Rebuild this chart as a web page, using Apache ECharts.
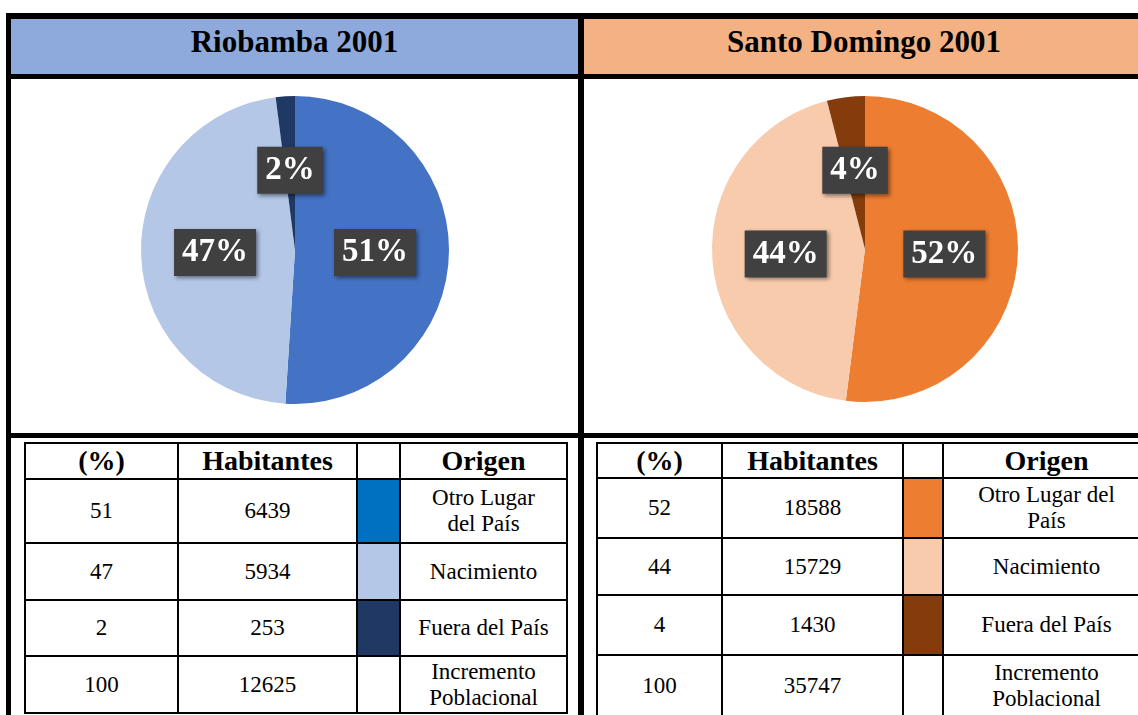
<!DOCTYPE html>
<html>
<head>
<meta charset="utf-8">
<script src="https://cdn.jsdelivr.net/npm/echarts@6/dist/echarts.min.js"></script>
<style>
  body { margin: 0; background: #fff; }
  #page { position: relative; width: 1138px; height: 715px; overflow: hidden; font-family: "Liberation Serif", "Times New Roman", serif; }
  #chart { position: absolute; left: 0; top: 0; width: 1138px; height: 715px; }
  .bar { position: absolute; background: #000; }
  .head { position: absolute; box-sizing: border-box; padding-bottom: 10px; display: flex; align-items: center; justify-content: center; font-weight: bold; font-size: 31px; color: #000; }
  .cell { position: absolute; box-sizing: border-box; border: 2px solid #000; display: flex; align-items: center; justify-content: center; text-align: center; font-size: 23px; line-height: 26px; color: #000; background: #fff; }
  .cell.th { font-weight: bold; font-size: 28px; }
</style>
</head>
<body>
<div id="page">
  <div id="chart"></div>
</div>
<script>
// Riobamba 2001
const rioTitle = "Riobamba 2001";
const rioPct = [51, 47, 2, 100];
const rioHab = [6439, 5934, 253, 12625];
const rioOrigen = ["Otro Lugar<br>del País", "Nacimiento", "Fuera del País", "Incremento<br>Poblacional"];
const rioPieColors = ["#4472C4", "#B4C7E7", "#1F3864"];
const rioSwatch = ["#0070C0", "#B4C7E7", "#203864", "#fff"];

// Santo Domingo 2001
const sdTitle = "Santo Domingo 2001";
const sdPct = [52, 44, 4, 100];
const sdHab = [18588, 15729, 1430, 35747];
const sdOrigen = ["Otro Lugar del<br>País", "Nacimiento", "Fuera del País", "Incremento<br>Poblacional"];
const sdPieColors = ["#ED7D31", "#F8CBAD", "#843C0C"];
const sdSwatch = ["#ED7D31", "#F8CBAD", "#843C0C", "#fff"];

const headers = ["(%)", "Habitantes", "", "Origen"];
const sliceNames = ["Otro Lugar del País", "Nacimiento", "Fuera del País"];

const page = document.getElementById("page");

function box(cls, x, y, w, h, html, bg) {
  const d = document.createElement("div");
  d.className = cls;
  d.style.left = x + "px";
  d.style.top = y + "px";
  d.style.width = w + "px";
  d.style.height = h + "px";
  if (bg) d.style.background = bg;
  if (html !== undefined) d.innerHTML = html;
  page.appendChild(d);
  return d;
}

// headers
box("head", 11, 19, 567, 55, rioTitle, "#8EA9DB");
box("head", 584, 19, 560, 55, sdTitle, "#F4B183");

// thick frame lines
box("bar", 6, 13, 1140, 6);
box("bar", 6, 74, 1140, 5);
box("bar", 6, 433, 1140, 5);
box("bar", 6, 13, 5, 710);
box("bar", 578, 13, 6, 710);

function table(cols, rows, pct, hab, origen, swatch) {
  const body = pct.map((p, i) => [p, hab[i], "", origen[i]]);
  const all = [headers].concat(body);
  for (let r = 0; r < all.length; r++) {
    for (let c = 0; c < 4; c++) {
      const x = cols[c] - 1, y = rows[r] - 1;
      const w = cols[c + 1] - cols[c] + 2, h = rows[r + 1] - rows[r] + 2;
      const bg = r > 0 && c === 2 ? swatch[r - 1] : null;
      box(r === 0 ? "cell th" : "cell", x, y, w, h, String(all[r][c]), bg);
    }
  }
}

table([25, 178, 357, 400, 567], [443, 479, 543, 600, 656, 713], rioPct, rioHab, rioOrigen, rioSwatch);
table([597, 722, 903, 943, 1150], [443, 478, 538, 595, 655, 717], sdPct, sdHab, sdOrigen, sdSwatch);

const chart = echarts.init(document.getElementById("chart"));

const labelStyle = {
  show: true,
  position: "inside",
  formatter: "{d}%",
  fontFamily: "Liberation Serif",
  fontWeight: "bold",
  fontSize: 33,
  lineHeight: 34,
  color: "#fff",
  backgroundColor: "#404040",
  padding: [7, 8, 6, 8],
  shadowColor: "rgba(0,0,0,0.45)",
  shadowBlur: 4,
  shadowOffsetX: 2,
  shadowOffsetY: 2
};

function pieSeries(center, radius, values, colors) {
  return {
    type: "pie",
    center: center,
    radius: radius,
    startAngle: 90,
    clockwise: true,
    percentPrecision: 0,
    label: labelStyle,
    labelLine: { show: false },
    emphasis: { disabled: true },
    data: values.map((v, i) => ({ name: sliceNames[i], value: v, itemStyle: { color: colors[i] } }))
  };
}

chart.setOption({
  animation: false,
  series: [
    pieSeries([295, 250], 154, rioHab.slice(0, 3), rioPieColors),
    pieSeries([865, 249], 153, sdHab.slice(0, 3), sdPieColors)
  ]
});
</script>
</body>
</html>
